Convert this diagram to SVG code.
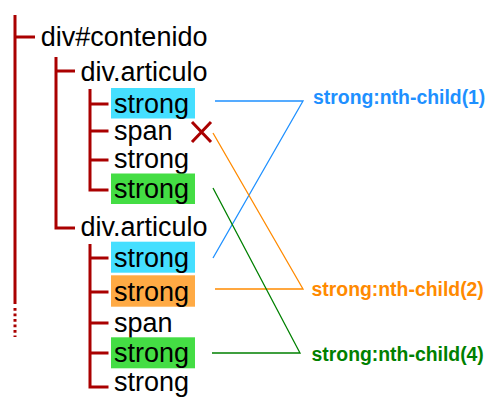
<svg xmlns="http://www.w3.org/2000/svg" width="496" height="415" viewBox="0 0 496 415">
<style>
.tree{fill:none;stroke:#aa0000;stroke-width:3;stroke-linejoin:miter}
.lbl{font-family:"Liberation Sans",Arial,sans-serif;font-size:27px;fill:#000}
.sel{font-family:"Liberation Sans",Arial,sans-serif;font-size:19.4px;font-weight:bold}
.conn{fill:none;stroke-width:1.3}
.hc{fill:#45dfff}.ho{fill:#ffaa44}.hg{fill:#44dd44}
</style>
<rect width="496" height="415" fill="#fff"/>
<g id="tree-lines">
<path class="tree" d="M15,15 V304 M15,37 H35"/>
<path class="tree" d="M15,308 V337" stroke-dasharray="2.7 2.8"/>
<path class="tree" d="M56,57 V228 H75 M56,71 H75"/>
<path class="tree" d="M90,89 V190 H108.5 M90,104 H108.5 M90,131 H108.5 M90,160 H108.5"/>
<path class="tree" d="M90,244 V387 H108.5 M90,258 H108.5 M90,292 H108.5 M90,323 H108.5 M90,353 H108.5"/>
</g>
<g id="n-contenido"><text class="lbl" x="40.8" y="46">div#contenido</text></g>
<g id="n-articulo1"><text class="lbl" x="80.5" y="81">div.articulo</text></g>
<g id="n-a1-strong1"><rect class="hc" x="111" y="88" width="84" height="30.5"/><text class="lbl" x="114" y="112.5">strong</text></g>
<g id="n-a1-span"><text class="lbl" x="114" y="139.5">span</text>
<path d="M192,122 L211,142 M211,122 L192,142" fill="none" stroke="#aa0000" stroke-width="3"/></g>
<g id="n-a1-strong3"><text class="lbl" x="114" y="168">strong</text></g>
<g id="n-a1-strong4"><rect class="hg" x="111" y="173.5" width="84" height="30.5"/><text class="lbl" x="114" y="198">strong</text></g>
<g id="n-articulo2"><text class="lbl" x="80.5" y="236">div.articulo</text></g>
<g id="n-a2-strong1"><rect class="hc" x="111" y="241.7" width="84" height="31"/><text class="lbl" x="114" y="267">strong</text></g>
<g id="n-a2-strong2"><rect class="ho" x="111" y="275.3" width="84" height="31.4"/><text class="lbl" x="114" y="301">strong</text></g>
<g id="n-a2-span"><text class="lbl" x="114" y="331.5">span</text></g>
<g id="n-a2-strong4"><rect class="hg" x="111" y="337.3" width="84" height="31"/><text class="lbl" x="114" y="362">strong</text></g>
<g id="n-a2-strong5"><text class="lbl" x="114" y="391">strong</text></g>
<g id="connectors">
<polyline class="conn" stroke="#1e90ff" points="215,101 303,101 213,258"/>
<polyline class="conn" stroke="#ff8a00" points="213,133 303,289 215,289"/>
<polyline class="conn" stroke="#008000" points="213,188 300,353 212,353"/>
</g>
<g id="s-nth1"><text class="sel" x="313" y="103.5" fill="#1e90ff">strong:nth-child(1)</text></g>
<g id="s-nth2"><text class="sel" x="311.5" y="296" fill="#ff8a00">strong:nth-child(2)</text></g>
<g id="s-nth4"><text class="sel" x="311.5" y="360.5" fill="#008000">strong:nth-child(4)</text></g>
</svg>
